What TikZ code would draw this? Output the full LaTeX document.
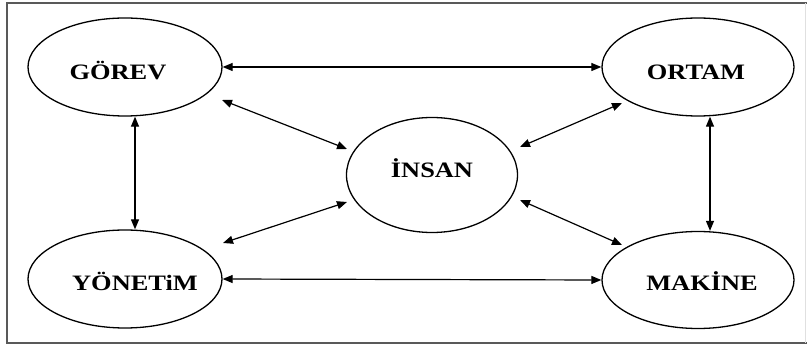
\documentclass[tikz,border=0pt]{standalone}
\usepackage{fontspec}
\setmainfont{Liberation Serif}
\usetikzlibrary{arrows.meta,calc,shapes.geometric}
\newcommand{\lbltxt}[1]{\scalebox{1.2}[1]{#1}}
\begin{document}
\begin{tikzpicture}[x=1pt,y=-1pt,
  elbox/.style={ellipse,draw,line width=1.3pt,inner sep=0pt},
  lbl/.style={anchor=base,inner sep=0pt,font=\fontsize{22}{22}\selectfont\bfseries},
  conn/.style={{Triangle[length=10pt,width=8pt]}-{Triangle[length=10pt,width=8pt]},line width=1.2pt}]
\useasboundingbox (0,0) rectangle (807,347);
\draw[line width=2pt,draw=black!65] (820,3) -- (7,3) -- (7,343) -- (820,343);
\draw[line width=1pt,draw=black!12] (805,3) -- (805,343);
\node[elbox,minimum width=194pt,minimum height=98pt] (g) at (125,67) {};
\node[elbox,minimum width=192pt,minimum height=98pt] (o) at (698,67) {};
\node[elbox,minimum width=194pt,minimum height=98pt] (y) at (125,279) {};
\node[elbox,minimum width=192pt,minimum height=97pt] (m) at (698,280) {};
\node[elbox,minimum width=171pt,minimum height=115pt] (i) at (432,175) {};
\node[lbl] (gt) at (118,80) {\lbltxt{GÖREV}};
\node[lbl] (ot) at (696,80) {\lbltxt{ORTAM}};
\node[lbl] (yt) at (135,291) {\lbltxt{YÖNETiM}};
\node[lbl] (mt) at (702,291) {\lbltxt{MAKİNE}};
\node[lbl] (it) at (432,178) {\lbltxt{İNSAN}};
\draw[conn] (g.east) -- (o.west);
\draw[conn] (y.east) -- (m.west);
\draw[conn] ($(g.south)+(10,0)$) -- ($(y.north)+(10,0)$);
\draw[conn] ($(o.south)+(12,0)$) -- ($(m.north)+(12,0)$);
\draw[conn] ($(g)+(97,33)$) -- ($(i)+(-85,-26)$);
\draw[conn] ($(o)+(-76,36)$) -- ($(i)+(88,-28)$);
\draw[conn] ($(y)+(98,-36)$) -- ($(i)+(-85,27)$);
\draw[conn] ($(m)+(-76,-35)$) -- ($(i)+(88,25)$);
\end{tikzpicture}
\end{document}
